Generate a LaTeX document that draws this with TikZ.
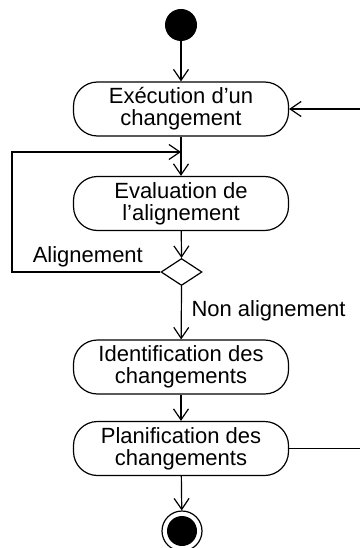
\documentclass[tikz,border=0pt]{standalone}
\usepackage{fontspec}
\setmainfont{Liberation Sans}
\usetikzlibrary{positioning, shapes.geometric, arrows.meta}
\tikzset{
  activity/.style={
    minimum width=215pt,
    minimum height=54pt,
    inner sep=0pt,
    rounded corners=24pt,
    align=center,
    draw, line width=1.2pt,
  },
  decision/.style={
    diamond, aspect=1.5,
    minimum width=41pt,
    minimum height=27pt,
    inner sep=0pt,
    draw, line width=1.2pt,
  },
  initial/.style={
    circle, fill=black,
    minimum size=32pt, inner sep=0pt,
  },
  finalring/.style={
    circle, draw, line width=1.2pt,
    minimum size=40pt, inner sep=0pt,
  },
  finaldot/.style={
    circle, fill=black,
    minimum size=30pt, inner sep=0pt,
  },
  flow/.style={
    line width=1.2pt,
    -{Straight Barb[length=11pt,width=15pt,line width=1.2pt]},
  },
  plain/.style={line width=1.2pt},
}

\begin{document}
\begin{tikzpicture}[x=1pt, y=1pt, font=\fontsize{22}{22}\selectfont]
\useasboundingbox (0,0) rectangle (359,-548);

\node[initial] (start) at (181,-25) {};
\node[activity] (exec) at (181,-109) {Exécution d'un\\changement};
\node[activity] (eval) at (181,-203.5) {Evaluation de\\l'alignement};
\node[decision] (dec) at (181.5,-272) {};
\node[activity] (ident) at (181,-367) {Identification des\\changements};
\node[activity] (plan) at (181,-448.5) {Planification des\\changements};
\node[finalring] (stop) at (182,-531) {};
\node[finaldot] (stopdot) at (stop) {};

\coordinate (loopin) at (181,-152);
\coordinate (rin) at ([xshift=75pt]exec.east);
\coordinate (rout) at ([xshift=75pt]plan.east);

\draw[flow] (start) -- (exec);
\draw[flow] (exec) -- (eval);
\draw[flow] (eval) -- (dec.north);
\draw[flow] (dec.south) -- (ident);
\draw[flow] (ident) -- (plan);
\draw[flow] (plan) -- (stop);
\draw[flow] (dec.west) -- ++(-148.5,0) |- (loopin);
\draw[flow] (rin) -- (exec.east);
\draw[plain] (plan.east) -- (rout);

\node[anchor=base east] (lblalign) at ([xshift=-14pt,yshift=10pt]dec.west) {Alignement};
\node[anchor=base west] (lblnonalign) at (188,-316) {Non alignement};
\end{tikzpicture}
\end{document}
